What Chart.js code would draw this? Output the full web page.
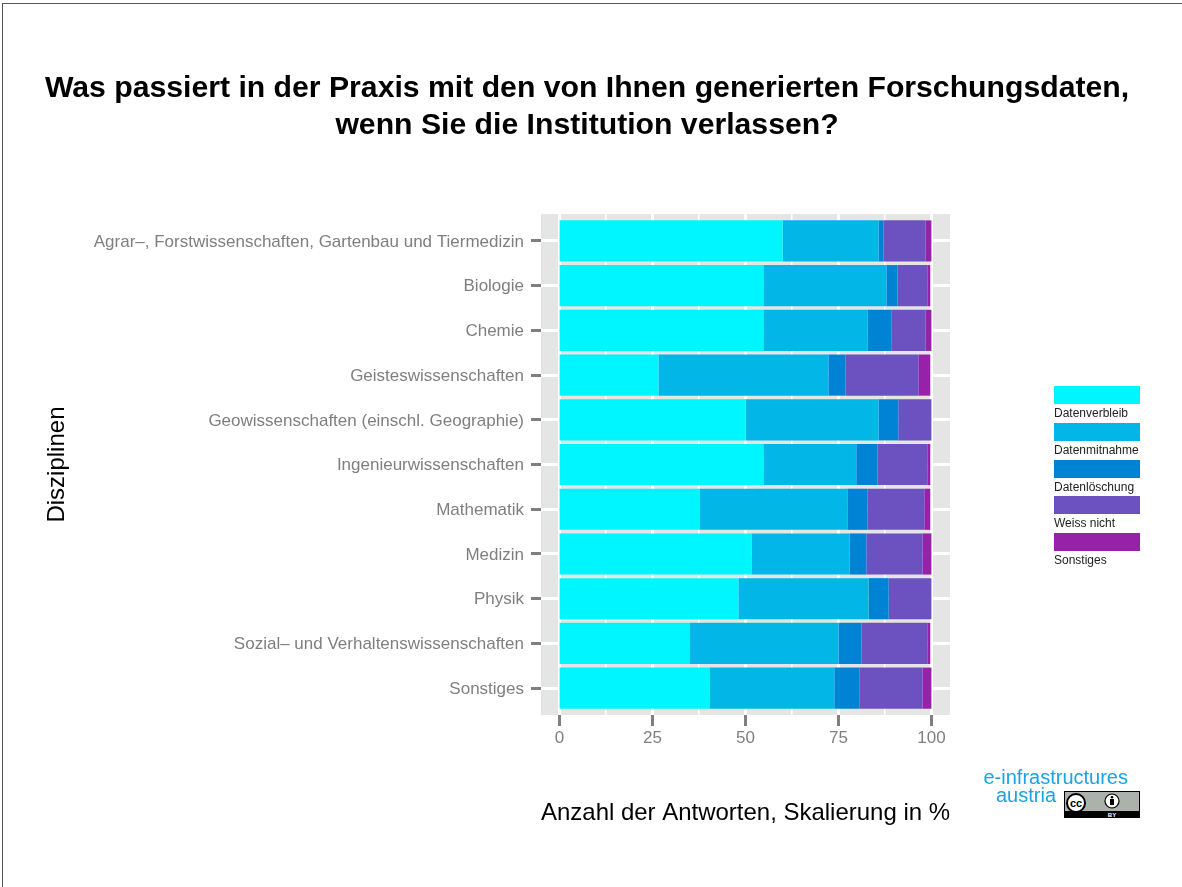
<!DOCTYPE html>
<html lang="de">
<head>
<meta charset="utf-8">
<title>Forschungsdaten</title>
<script src="https://cdn.jsdelivr.net/npm/chart.js@4"></script>
<style>
  html, body { margin: 0; padding: 0; background: #fff; }
  body { width: 1182px; height: 887px; position: relative; overflow: hidden; font-family: "Liberation Sans", sans-serif; }
  #frame { position: absolute; left: 2px; top: 3px; right: -5px; bottom: -5px; border: 1px solid #555; }
  #myChart { position: absolute; left: 0; top: 0; }
  #legend { position: absolute; left: 1054px; top: 386px; width: 110px; }
  #legend .item { height: 36.75px; }
  #legend .swatch { width: 86px; height: 18px; }
  #legend .name { font-size: 12px; line-height: 18px; color: #222; white-space: nowrap; }
  #logo { position: absolute; left: 960px; top: 768px; width: 168px; text-align: right; color: #1aa3e2; font-size: 20px; line-height: 18px; }
  #logo div:last-child { padding-right: 72px; }
  #cc { position: absolute; left: 1064px; top: 791px; }
</style>
</head>
<body>
<div id="frame"></div>
<canvas id="myChart" width="1174" height="887"></canvas>
<div id="legend"></div>
<div id="logo"><div>e-infrastructures</div><div>austria</div></div>
<svg id="cc" width="76" height="27" viewBox="0 0 76 27">
  <rect width="76" height="27" fill="#000"/>
  <rect x="1" y="1" width="74" height="19" fill="#aab2ab"/>
  <circle cx="12" cy="12" r="9" fill="#fff" stroke="#000" stroke-width="2"/>
  <text x="12" y="15.5" text-anchor="middle" font-size="11" font-weight="bold" font-family="Liberation Sans">cc</text>
  <circle cx="48" cy="10" r="7" fill="#fff" stroke="#000" stroke-width="1.2"/>
  <rect x="46" y="8" width="4" height="6" fill="#000"/>
  <circle cx="48" cy="6.3" r="1.3" fill="#000"/>
  <text x="48" y="25.5" text-anchor="middle" font-size="6" font-weight="bold" fill="#fff" font-family="Liberation Sans">BY</text>
</svg>
<script>
const categories = [
  "Agrar–, Forstwissenschaften, Gartenbau und Tiermedizin",
  "Biologie",
  "Chemie",
  "Geisteswissenschaften",
  "Geowissenschaften (einschl. Geographie)",
  "Ingenieurwissenschaften",
  "Mathematik",
  "Medizin",
  "Physik",
  "Sozial– und Verhaltenswissenschaften",
  "Sonstiges",
];
const datenverbleib = [60, 54.8, 54.8, 26.6, 50, 54.8, 37.6, 51.6, 48.1, 34.9, 40.3];
const datenmitnahme = [25.8, 33.1, 28, 45.7, 35.8, 25, 39.8, 26.4, 35, 40.1, 33.6];
const datenloeschung = [1.3, 3, 6.4, 4.6, 5.3, 5.7, 5.4, 4.5, 5.4, 6.2, 6.7];
const weissNicht = [11.3, 8, 9.2, 19.6, 8.9, 13.4, 15.3, 15.1, 11.5, 17.7, 17];
const sonstiges = [1.6, 0.8, 1.6, 3.2, 0, 0.8, 1.6, 2.4, 0, 0.8, 2.4];

const seriesNames = ["Datenverbleib", "Datenmitnahme", "Datenlöschung", "Weiss nicht", "Sonstiges"];
const seriesValues = [datenverbleib, datenmitnahme, datenloeschung, weissNicht, sonstiges];
const seriesColors = ["#00f6fe", "#02b6e8", "#0083d5", "#6c52c1", "#9821a9"];
const xTicks = [0, 12.5, 25, 37.5, 50, 62.5, 75, 87.5, 100];

// grey panel behind the grid
const panel = {
  id: "panel",
  beforeDraw(chart) {
    const a = chart.chartArea;
    chart.ctx.fillStyle = "#e5e5e5";
    chart.ctx.fillRect(a.left, a.top, a.width, a.height);
  },
};

const grey = "#7f7f7f";
const data = {
  datasets: seriesNames.map((name, i) => ({
    label: name,
    data: seriesValues[i].map((v, j) => ({ x: v, y: j })),
    backgroundColor: seriesColors[i],
    borderWidth: 0,
    categoryPercentage: 0.92,
    barPercentage: 1,
  })),
};

const config = {
  type: "bar",
  data: data,
  plugins: [panel],
  options: {
    indexAxis: "y",
    responsive: false,
    animation: false,
    layout: { padding: { bottom: 59 } },
    plugins: {
      legend: { display: false },
      tooltip: { enabled: false },
      title: {
        display: true,
        text: ["Was passiert in der Praxis mit den von Ihnen generierten Forschungsdaten,", "wenn Sie die Institution verlassen?"],
        color: "#000",
        font: { family: "Liberation Sans", size: 30.2, weight: "bold", lineHeight: 1.24 },
        padding: { top: 70, bottom: 69.2 },
      },
    },
    scales: {
      x: {
        type: "linear",
        stacked: true,
        min: -5,
        max: 105,
        afterBuildTicks(scale) {
          scale.ticks = xTicks.map((v) => ({ value: v }));
          // bars would otherwise start half a grid line right of zero
          scale.getLineWidthForValue = () => 0;
        },
        afterFit(scale) {
          scale.height = 113;
        },
        border: { display: false },
        grid: {
          color: "#fff",
          lineWidth: (ctx) => (ctx.tick.value % 25 === 0 ? 3 : 1.5),
          tickColor: (ctx) => (ctx.tick.value % 25 === 0 ? grey : "rgba(0,0,0,0)"),
          tickWidth: 3,
          tickLength: 11,
        },
        ticks: {
          autoSkip: false,
          maxRotation: 0,
          color: grey,
          padding: 2,
          font: { family: "Liberation Sans", size: 17 },
          callback: (v) => (v % 25 === 0 ? v : ""),
        },
        title: {
          display: true,
          text: "Anzahl der Antworten, Skalierung in %",
          color: "#000",
          font: { family: "Liberation Sans", size: 24 },
          padding: 0,
        },
      },
      y: {
        type: "linear",
        stacked: true,
        reverse: true,
        offset: false,
        min: -0.6,
        max: 10.6,
        afterBuildTicks(scale) {
          scale.ticks = categories.map((c, i) => ({ value: i }));
        },
        afterFit(scale) {
          scale.width = 541;
        },
        border: { display: false },
        grid: {
          offset: false,
          color: "#fff",
          lineWidth: 3,
          tickColor: grey,
          tickWidth: 3,
          tickLength: 10,
        },
        ticks: {
          autoSkip: false,
          color: grey,
          padding: 7,
          labelOffset: 1,
          font: { family: "Liberation Sans", size: 17 },
          callback: (v) => categories[v],
        },
        title: {
          display: true,
          text: "Disziplinen",
          color: "#000",
          font: { family: "Liberation Sans", size: 24 },
          padding: { top: 43, bottom: 0 },
        },
      },
      // empty axis, only keeps the space right of the panel for the legend
      gutter: {
        type: "linear",
        axis: "y",
        position: "right",
        ticks: { display: false },
        grid: { display: false },
        border: { display: false },
        afterFit(scale) {
          scale.width = 224;
        },
      },
    },
  },
};
const myChart = new Chart(document.getElementById("myChart"), config);

// legend under the chart library: swatch on top, name below
const legend = document.getElementById("legend");
seriesNames.forEach((name, i) => {
  const item = document.createElement("div");
  item.className = "item";
  const swatch = document.createElement("div");
  swatch.className = "swatch";
  swatch.style.background = seriesColors[i];
  const label = document.createElement("div");
  label.className = "name";
  label.textContent = name;
  item.append(swatch, label);
  legend.append(item);
});
</script>
</body>
</html>
